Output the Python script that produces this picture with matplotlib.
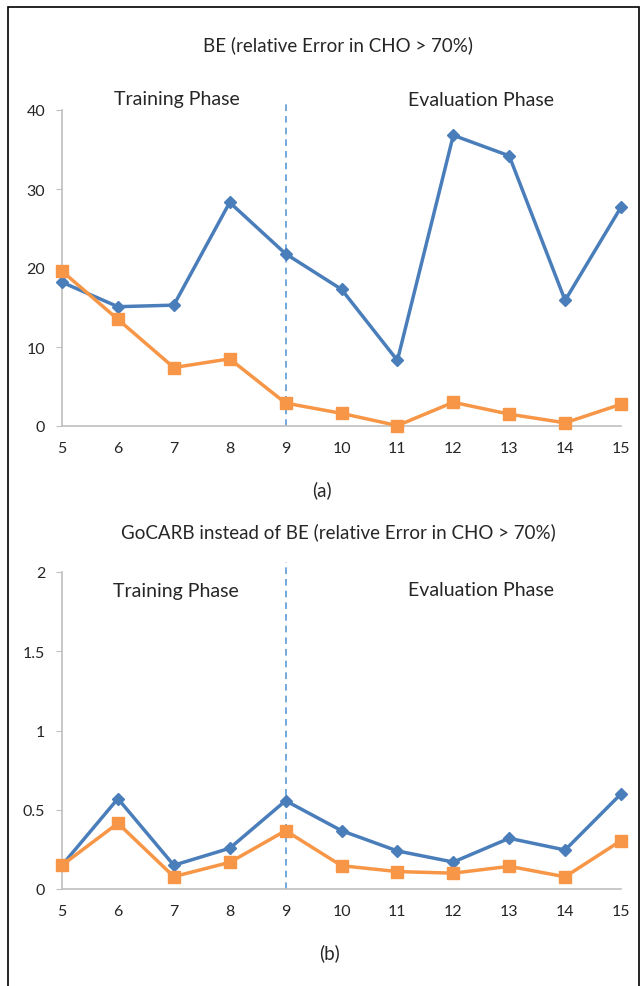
import matplotlib.pyplot as plt
from matplotlib.patches import Rectangle

# ---------------- data ----------------
x_vals = [5, 6, 7, 8, 9, 10, 11, 12, 13, 14, 15]
be_blue = [18.2, 15.1, 15.3, 28.3, 21.8, 17.3, 8.3, 36.8, 34.2, 15.9, 27.7]
be_orange = [19.6, 13.5, 7.4, 8.5, 2.9, 1.6, 0.05, 3.0, 1.5, 0.4, 2.75]
gc_blue = [0.15, 0.57, 0.15, 0.257, 0.557, 0.368, 0.24, 0.17, 0.32, 0.246, 0.60]
gc_orange = [0.15, 0.415, 0.078, 0.168, 0.368, 0.147, 0.11, 0.10, 0.143, 0.077, 0.305]
top_yticks = [0, 10, 20, 30, 40]
bot_yticks = [0, 0.5, 1, 1.5, 2]
bot_yticklabels = ['0', '0.5', '1', '1.5', '2']

plt.rcParams['font.family'] = ['Lato', 'DejaVu Sans']
blue = '#4a7ebb'
orange = '#f79646'
axis_grey = '#bfbfbf'
text_col = '#262626'
fs = 13.5      # titles
fs_phase = 14  # phase labels

fig = plt.figure(figsize=(6.43, 9.87), dpi=100)

# outer frame
fig.patches.append(Rectangle((8 / 643, -0.01), (639 - 8) / 643, 1.01 - 8 / 987,
                             transform=fig.transFigure, fill=False,
                             edgecolor='black', linewidth=1.2))


def style_axes(ax, ymax, yticks, ylabels):
    ax.set_xlim(5, 15)
    ax.set_ylim(0, ymax)
    ax.set_xticks(x_vals)
    ax.set_yticks(yticks)
    ax.set_yticklabels(ylabels)
    for s in ['top', 'right']:
        ax.spines[s].set_visible(False)
    for s in ['left', 'bottom']:
        ax.spines[s].set_color(axis_grey)
        ax.spines[s].set_linewidth(1.2)
    ax.tick_params(axis='x', length=0, pad=11, labelsize=11.5, colors=text_col)
    ax.tick_params(axis='y', length=4, color=axis_grey, pad=8, labelsize=11.5,
                   labelcolor=text_col)
    ax.axvline(9, ymin=0, ymax=1.03, color='#5b9bd5', linestyle=(0, (4, 3)),
               linewidth=1.2, clip_on=False, zorder=1)


# ---------------- (a) ----------------
ax1 = fig.add_axes([62 / 643, 1 - 427 / 987, 559 / 643, 316 / 987])
ax1.plot(x_vals, be_blue, color=blue, linewidth=2.5, marker='D', markersize=6.5,
         clip_on=False, zorder=3)
ax1.plot(x_vals, be_orange, color=orange, linewidth=2.5, marker='s', markersize=9,
         clip_on=False, zorder=3)
style_axes(ax1, 40, top_yticks, [str(t) for t in top_yticks])
fig.text(338 / 643, 1 - 45 / 987, 'BE (relative Error in CHO > 70%)', ha='center',
         va='center', fontsize=fs, color=text_col)
fig.text(177 / 643, 1 - 100 / 987, 'Training Phase', ha='center', va='center',
         fontsize=fs_phase, color=text_col)
fig.text(481 / 643, 1 - 100 / 987, 'Evaluation Phase', ha='center', va='center',
         fontsize=fs_phase, color=text_col)
fig.text(322 / 643, 1 - 490 / 987, '(a)', ha='center', va='center',
         fontsize=fs, color=text_col)

# ---------------- (b) ----------------
ax2 = fig.add_axes([62 / 643, 1 - 890 / 987, 559 / 643, 317 / 987])
ax2.plot(x_vals, gc_blue, color=blue, linewidth=2.5, marker='D', markersize=6.5,
         clip_on=False, zorder=3)
ax2.plot(x_vals, gc_orange, color=orange, linewidth=2.5, marker='s', markersize=9,
         clip_on=False, zorder=3)
style_axes(ax2, 2, bot_yticks, bot_yticklabels)
fig.text(338 / 643, 1 - 532 / 987, 'GoCARB instead of BE (relative Error in CHO > 70%)',
         ha='center', va='center', fontsize=fs, color=text_col)
fig.text(176 / 643, 1 - 591 / 987, 'Training Phase', ha='center', va='center',
         fontsize=fs_phase, color=text_col)
fig.text(481 / 643, 1 - 591 / 987, 'Evaluation Phase', ha='center', va='center',
         fontsize=fs_phase, color=text_col)
fig.text(330 / 643, 1 - 953 / 987, '(b)', ha='center', va='center',
         fontsize=fs, color=text_col)

fig.savefig('out.png', dpi=100)
